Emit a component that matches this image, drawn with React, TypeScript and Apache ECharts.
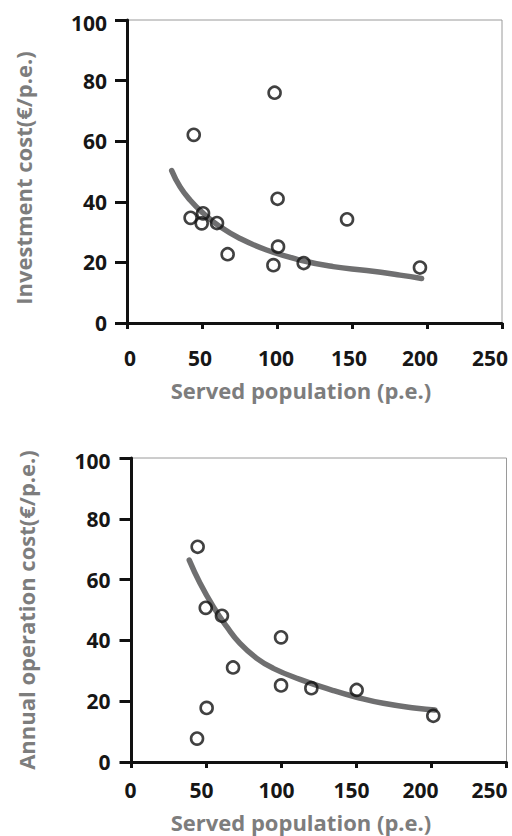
import React, { useEffect, useRef } from "react";
import * as echarts from "echarts";

// ---- data ----
const xTicks = [0, 50, 100, 150, 200, 250];
const yTicks = [0, 20, 40, 60, 80, 100];

const invX = [44.5, 98.4, 100.4, 42.4, 50.7, 49.8, 60, 67.1, 100.7, 97.6, 117.8, 146.7, 195.3];
const invY = [62.1, 76.0, 41.0, 34.7, 36.2, 32.9, 33.0, 22.7, 25.2, 19.1, 19.8, 34.2, 18.3];
const invFitX = [29.8, 35.3, 42, 50.9, 62, 75.3, 93.1, 115.3, 137.5, 159.8, 182, 196.4];
const invFitY = [50.3, 45.0, 40.6, 36.2, 31.8, 27.9, 24.1, 20.8, 18.6, 17.3, 15.8, 14.7];

const opX = [44.1, 49.5, 60.3, 99.7, 67.7, 99.7, 119.9, 150.1, 50.1, 43.7, 201.2];
const opY = [70.8, 50.7, 48.1, 41.0, 31.1, 25.2, 24.3, 23.7, 17.8, 7.7, 15.2];
const opFitX = [38.5, 45.7, 54.5, 63.5, 72.3, 83.5, 94.5, 112.3, 134.5, 150.1, 167.9, 190.1, 202.3];
const opFitY = [66.4, 58.8, 51.1, 44.5, 39.0, 34.1, 30.8, 27.2, 23.5, 21.3, 19.3, 17.7, 17.1];

const xTitle = "Served population (p.e.)";
const yTitleTop = "Investment cost(€/p.e.)";
const yTitleBottom = "Annual operation cost(€/p.e.)";

// ---- styling ----
const FONT = "'Open Sans', 'Noto Sans', sans-serif";
const LABEL_COLOR = "#161616";
const TITLE_COLOR = "#7d7d7d";
const CURVE_COLOR = "#6f6f70";

const labelFont = { fontFamily: FONT, fontSize: 21, fontWeight: "bold" as const, color: LABEL_COLOR };

// horizontal nudges (px) of x tick labels, per tick index
const xShiftTop = [3, -2, -1, -3, -7, -12];
const xShiftBottom = [-1, -5, -5, -5, -11, -17];

function xAxisFor(gridIndex: number, shifts: number[], labelMargin: number, nameGap: number, namePadRight: number) {
  const rich: Record<string, any> = {};
  xTicks.forEach((v, i) => {
    const s = shifts[i];
    rich["t" + i] = {
      ...labelFont,
      padding: s < 0 ? [0, -2 * s, 0, 0] : [0, 0, 0, 2 * s],
    };
  });
  return {
    type: "value",
    gridIndex,
    min: xTicks[0],
    max: xTicks[xTicks.length - 1],
    interval: 50,
    axisLine: { show: true, onZero: false, lineStyle: { color: "#111", width: 3 } },
    axisTick: { show: true, inside: false, length: 6, lineStyle: { color: "#111", width: 3 } },
    splitLine: { show: false },
    axisLabel: {
      ...labelFont,
      margin: labelMargin,
      formatter: (v: number) => {
        const i = xTicks.indexOf(v);
        return i >= 0 ? `{t${i}|${v}}` : String(v);
      },
      rich,
    },
    name: xTitle,
    nameLocation: "middle",
    nameGap,
    nameTextStyle: {
      fontFamily: FONT,
      fontSize: 22,
      fontWeight: "bold",
      color: TITLE_COLOR,
      padding: [0, namePadRight, 0, 0],
    },
  };
}

function yAxisFor(gridIndex: number, name: string, labelMargin: number, nameGap: number, topShift: number, namePad: number[]) {
  return {
    type: "value",
    gridIndex,
    min: yTicks[0],
    max: yTicks[yTicks.length - 1],
    interval: 20,
    axisLine: { show: true, onZero: false, lineStyle: { color: "#111", width: 3 } },
    axisTick: { show: true, inside: false, length: 12, lineStyle: { color: "#111", width: 3 } },
    splitLine: { show: false },
    axisLabel: {
      ...labelFont,
      margin: labelMargin,
      formatter: (v: number) => (v === 100 ? `{top|${v}}` : `{n|${v}}`),
      rich: {
        n: { ...labelFont },
        top: { ...labelFont, padding: [2 * topShift, 0, 0, 0] },
      },
    },
    name,
    nameLocation: "middle",
    nameGap,
    nameTextStyle: {
      fontFamily: FONT,
      fontSize: 22,
      fontWeight: "bold",
      color: TITLE_COLOR,
      padding: namePad,
    },
  };
}

function toPairs(xs: number[], ys: number[]) {
  return xs.map((x, i) => [x, ys[i]]);
}

function curveSeries(idx: number, xs: number[], ys: number[]) {
  return {
    type: "line",
    xAxisIndex: idx,
    yAxisIndex: idx,
    data: toPairs(xs, ys),
    smooth: true,
    showSymbol: false,
    symbol: "none",
    lineStyle: { color: CURVE_COLOR, width: 5.5, cap: "round", join: "round" },
    z: 2,
    silent: true,
  };
}

function pointSeries(idx: number, xs: number[], ys: number[]) {
  return {
    type: "scatter",
    xAxisIndex: idx,
    yAxisIndex: idx,
    data: toPairs(xs, ys),
    symbol: "circle",
    symbolSize: 12,
    itemStyle: { color: "rgba(255,255,255,0)", borderColor: "#111", borderWidth: 2.6 },
    z: 3,
    silent: true,
  };
}

export default function App() {
  const ref = useRef<HTMLDivElement>(null);

  useEffect(() => {
    if (!ref.current) return;
    const chart = echarts.init(ref.current, undefined, { renderer: "svg" });
    chart.setOption({
      animation: false,
      backgroundColor: "#ffffff",
      grid: [
        { left: 127, top: 20, width: 375, height: 303, show: true, borderColor: "#9a9a9a", borderWidth: 1, containLabel: false },
        { left: 131.5, top: 458, width: 375, height: 304, show: true, borderColor: "#9a9a9a", borderWidth: 1, containLabel: false },
      ],
      xAxis: [
        xAxisFor(0, xShiftTop, 24, 56, 27),
        xAxisFor(1, xShiftBottom, 17, 49, 36),
      ],
      yAxis: [
        yAxisFor(0, yTitleTop, 20, 93, 3, [0, 13, 0, 0]),
        yAxisFor(1, yTitleBottom, 21, 95, 3, [0, 0, 0, 0]),
      ],
      series: [
        curveSeries(0, invFitX, invFitY),
        pointSeries(0, invX, invY),
        curveSeries(1, opFitX, opFitY),
        pointSeries(1, opX, opY),
      ],
    });
    return () => chart.dispose();
  }, []);

  return (
    <div
      ref={ref}
      style={{ position: "absolute", left: 0, top: 0, width: 512, height: 836, background: "#fff" }}
    />
  );
}
